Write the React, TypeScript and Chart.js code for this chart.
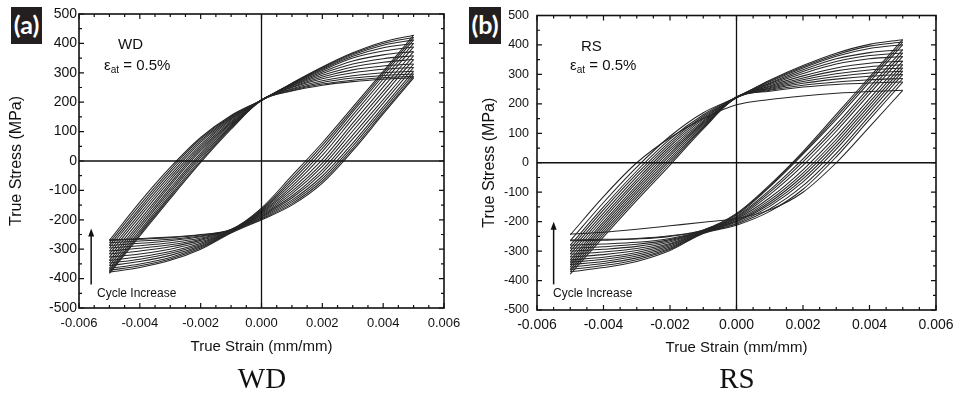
import React, { useEffect, useRef } from "react";
import { Chart, registerables } from "chart.js";

Chart.register(...registerables);

// Strain grid shared by every branch (mm/mm)
const strainGrid = [-0.005, -0.004, -0.003, -0.002, -0.001, 0, 0.001, 0.002, 0.003, 0.004, 0.005];
const xTickValues = [-0.006, -0.004, -0.002, 0, 0.002, 0.004, 0.006];
const yTickValues = [-500, -400, -300, -200, -100, 0, 100, 200, 300, 400, 500];

// (a) WD – loading branches (compression tip -> tension tip), MPa at strainGrid
const wdLoading = [
  [-382, -255, -128, -5, 108, 207, 238, 258, 270, 278, 283],
  [-378, -250, -122, 0, 112, 206, 240, 262, 275, 283, 288],
  [-372, -244, -116, 6, 115, 208, 243, 267, 282, 291, 296],
  [-365, -237, -108, 13, 119, 207, 246, 273, 290, 300, 305],
  [-356, -228, -100, 20, 123, 208, 250, 280, 300, 312, 318],
  [-347, -219, -92, 27, 127, 206, 252, 286, 310, 323, 330],
  [-338, -210, -83, 35, 131, 207, 255, 292, 320, 336, 345],
  [-327, -200, -75, 42, 135, 208, 257, 298, 330, 348, 358],
  [-316, -189, -66, 49, 139, 207, 259, 303, 340, 361, 372],
  [-306, -179, -57, 56, 143, 206, 261, 308, 350, 374, 388],
  [-296, -169, -48, 63, 146, 207, 262, 312, 356, 385, 400],
  [-287, -160, -39, 69, 149, 208, 263, 315, 361, 394, 412],
  [-278, -150, -30, 75, 152, 206, 264, 318, 365, 400, 420],
  [-270, -140, -22, 80, 155, 207, 265, 320, 368, 405, 428],
];
// (a) WD – unloading branches (tension tip -> next compression tip), MPa at strainGrid
const wdUnloading = [
  [-378, -362, -338, -300, -245, -200, -150, -75, 35, 160, 283],
  [-372, -356, -333, -296, -243, -197, -145, -68, 42, 166, 288],
  [-365, -350, -328, -292, -242, -194, -139, -60, 51, 175, 296],
  [-356, -342, -321, -288, -241, -191, -133, -51, 61, 184, 305],
  [-347, -334, -314, -284, -240, -188, -126, -40, 75, 197, 318],
  [-338, -326, -308, -280, -239, -185, -119, -30, 88, 209, 330],
  [-327, -316, -300, -275, -238, -182, -111, -18, 102, 224, 345],
  [-316, -306, -292, -270, -237, -179, -103, -7, 116, 237, 358],
  [-306, -297, -285, -266, -236, -176, -95, 5, 129, 251, 372],
  [-296, -288, -278, -262, -235, -173, -86, 19, 144, 266, 388],
  [-287, -280, -271, -258, -235, -170, -77, 32, 156, 279, 400],
  [-278, -272, -266, -255, -234, -167, -68, 43, 167, 290, 412],
  [-270, -266, -261, -252, -233, -164, -59, 53, 175, 298, 420],
  [-268, -264, -259, -250, -233, -160, -50, 62, 183, 305, 428],
];

// (b) RS – loading branches
const rsLoading = [
  [-245, -115, 0, 85, 150, 197, 215, 227, 236, 242, 246],
  [-378, -252, -128, -8, 115, 222, 243, 257, 266, 271, 274],
  [-370, -243, -119, 0, 119, 221, 246, 263, 274, 282, 286],
  [-362, -235, -111, 8, 123, 223, 249, 270, 284, 294, 300],
  [-354, -226, -102, 16, 127, 222, 252, 276, 293, 305, 311],
  [-346, -218, -94, 24, 131, 221, 255, 282, 302, 315, 322],
  [-338, -209, -85, 32, 135, 223, 258, 288, 312, 326, 333],
  [-330, -201, -77, 40, 139, 222, 261, 295, 322, 338, 345],
  [-320, -191, -67, 48, 143, 221, 265, 303, 335, 353, 361],
  [-310, -181, -58, 56, 148, 223, 268, 310, 344, 364, 373],
  [-300, -171, -48, 64, 153, 222, 271, 316, 353, 374, 384],
  [-290, -160, -38, 72, 158, 221, 275, 322, 362, 388, 401],
  [-280, -150, -28, 80, 163, 223, 278, 326, 367, 396, 410],
  [-265, -135, -15, 90, 170, 222, 280, 330, 372, 402, 418],
];
// (b) RS – unloading branches
const rsUnloading = [
  [-242, -236, -226, -214, -202, -189, -160, -100, 0, 122, 246],
  [-370, -356, -335, -298, -240, -212, -165, -90, 20, 147, 274],
  [-362, -349, -329, -294, -239, -208, -157, -78, 32, 159, 286],
  [-354, -342, -323, -290, -238, -205, -148, -65, 46, 173, 300],
  [-346, -335, -317, -286, -237, -201, -141, -55, 57, 184, 311],
  [-338, -328, -311, -282, -236, -198, -134, -45, 68, 195, 322],
  [-330, -321, -305, -278, -235, -195, -127, -35, 79, 206, 333],
  [-320, -312, -298, -274, -234, -191, -119, -24, 91, 218, 345],
  [-310, -303, -291, -269, -233, -188, -108, -9, 107, 234, 361],
  [-300, -294, -284, -265, -232, -185, -100, 3, 119, 246, 373],
  [-290, -285, -277, -261, -231, -182, -93, 13, 130, 257, 384],
  [-280, -276, -270, -257, -230, -178, -82, 29, 147, 274, 401],
  [-265, -263, -259, -250, -229, -175, -79, 33, 156, 283, 410],
  [-262, -260, -257, -248, -228, -172, -75, 38, 164, 291, 418],
];

const SANS = "'Liberation Sans', Arial, sans-serif";

const framePlugin = {
  id: "frameTicks",
  afterDraw(chart: any, _args: any, opts: any) {
    const { ctx, chartArea, scales } = chart;
    const { left, right, top, bottom } = chartArea;
    const xs = scales.x;
    const ys = scales.y;
    ctx.save();
    ctx.strokeStyle = "#111";
    ctx.lineWidth = 1.3;
    const x0 = xs.getPixelForValue(0);
    const y0 = ys.getPixelForValue(0);
    ctx.beginPath();
    ctx.moveTo(x0, top);
    ctx.lineTo(x0, bottom);
    ctx.moveTo(left, y0);
    ctx.lineTo(right, y0);
    ctx.stroke();
    ctx.lineWidth = 1.6;
    ctx.strokeRect(left, top, right - left, bottom - top);
    ctx.lineWidth = 1.2;
    ctx.beginPath();
    for (let i = 0; i <= 24; i++) {
      const v = -0.006 + i * 0.0005;
      const px = xs.getPixelForValue(v);
      const len = i % 4 === 0 ? 5 : 3;
      ctx.moveTo(px, bottom);
      ctx.lineTo(px, bottom - len);
      ctx.moveTo(px, top);
      ctx.lineTo(px, top + len);
    }
    for (let i = 0; i <= 20; i++) {
      const v = -500 + i * 50;
      const py = ys.getPixelForValue(v);
      const len = i % 2 === 0 ? 5 : 3;
      ctx.moveTo(left, py);
      ctx.lineTo(left + len, py);
      ctx.moveTo(right, py);
      ctx.lineTo(right - len, py);
    }
    ctx.stroke();
    if (opts && opts.arrow) {
      const a = opts.arrow;
      const ax = xs.getPixelForValue(a.x);
      const ay1 = ys.getPixelForValue(a.from);
      const ay2 = ys.getPixelForValue(a.to);
      ctx.lineWidth = 1.5;
      ctx.beginPath();
      ctx.moveTo(ax, ay1);
      ctx.lineTo(ax, ay2 + 6);
      ctx.stroke();
      ctx.fillStyle = "#111";
      ctx.beginPath();
      ctx.moveTo(ax, ay2);
      ctx.lineTo(ax - 3, ay2 + 8);
      ctx.lineTo(ax + 3, ay2 + 8);
      ctx.closePath();
      ctx.fill();
    }
    ctx.restore();
  },
};

function buildDatasets(loading: number[][], unloading: number[][]) {
  const ds: any[] = [];
  const mk = (arr: number[]) => ({
    data: strainGrid.map((s, k) => ({ x: s, y: arr[k] })),
    showLine: true,
    borderColor: "#262626",
    borderWidth: 1.05,
    pointRadius: 0,
    fill: false,
    cubicInterpolationMode: "monotone",
  });
  loading.forEach((arr) => ds.push(mk(arr)));
  unloading.forEach((arr) => ds.push(mk(arr)));
  return ds;
}

type PanelCfg = {
  loading: number[][];
  unloading: number[][];
  width: number;
  axisLeft: number;
  padRight: number;
  xAxisHeight: number;
  yTickSize: number;
  xTickSize: number;
  yTickPad: number;
  xTickPad: number;
  yTitlePad: number;
  xTitlePad: number;
  arrow: { x: number; from: number; to: number };
};

function Panel({ cfg }: { cfg: PanelCfg }) {
  const ref = useRef<HTMLCanvasElement>(null);
  useEffect(() => {
    if (!ref.current) return;
    const chart = new Chart(ref.current, {
      type: "scatter",
      data: { datasets: buildDatasets(cfg.loading, cfg.unloading) },
      options: {
        animation: false,
        responsive: false,
        maintainAspectRatio: false,
        layout: { padding: { left: 0, top: 14, right: cfg.padRight, bottom: 0 } },
        plugins: {
          legend: { display: false },
          tooltip: { enabled: false },
          frameTicks: { arrow: cfg.arrow },
        } as any,
        scales: {
          x: {
            type: "linear",
            min: -0.006,
            max: 0.006,
            afterBuildTicks: (s: any) => {
              s.ticks = xTickValues.map((v) => ({ value: v }));
            },
            afterFit: (s: any) => {
              s.height = cfg.xAxisHeight;
            },
            grid: { display: false, drawTicks: false },
            border: { display: false },
            ticks: {
              autoSkip: false,
              maxRotation: 0,
              color: "#111",
              padding: cfg.xTickPad,
              font: { family: SANS, size: cfg.xTickSize },
              callback: (v: any) => (Math.abs(Number(v)) < 1e-9 ? "0.000" : Number(v).toFixed(3)),
            },
            title: {
              display: true,
              text: "True Strain (mm/mm)",
              color: "#111",
              font: { family: SANS, size: 15 },
              padding: { top: 0, bottom: cfg.xTitlePad },
            },
          },
          y: {
            type: "linear",
            min: -500,
            max: 500,
            afterBuildTicks: (s: any) => {
              s.ticks = yTickValues.map((v) => ({ value: v }));
            },
            afterFit: (s: any) => {
              s.width = cfg.axisLeft;
            },
            grid: { display: false, drawTicks: false },
            border: { display: false },
            ticks: {
              autoSkip: false,
              color: "#111",
              padding: cfg.yTickPad,
              font: { family: SANS, size: cfg.yTickSize },
            },
            title: {
              display: true,
              text: "True Stress (MPa)",
              color: "#111",
              font: { family: SANS, size: 16 },
              padding: { top: cfg.yTitlePad, bottom: 0 },
            },
          },
        },
      } as any,
      plugins: [framePlugin],
    });
    return () => chart.destroy();
  }, []);
  return <canvas ref={ref} width={cfg.width} height={395} style={{ display: "block" }} />;
}

const abs = (l: number, t: number, extra: React.CSSProperties = {}): React.CSSProperties => ({
  position: "absolute",
  left: l,
  top: t,
  whiteSpace: "nowrap",
  lineHeight: 1,
  ...extra,
});

export default function App() {
  const cfgA: PanelCfg = {
    loading: wdLoading,
    unloading: wdUnloading,
    width: 470,
    axisLeft: 79,
    padRight: 26,
    xAxisHeight: 87,
    yTickSize: 14,
    xTickSize: 13,
    yTickPad: 2,
    xTickPad: 8,
    yTitlePad: 7,
    xTitlePad: 39,
    arrow: { x: -0.0056, from: -420, to: -230 },
  };
  const cfgB: PanelCfg = {
    loading: rsLoading,
    unloading: rsUnloading,
    width: 494,
    axisLeft: 67,
    padRight: 28,
    xAxisHeight: 85,
    yTickSize: 12.5,
    xTickSize: 14,
    yTickPad: 8,
    xTickPad: 7,
    yTitlePad: 10,
    xTitlePad: 38,
    arrow: { x: -0.0055, from: -413, to: -200 },
  };
  const box: React.CSSProperties = {
    background: "#231f20",
    color: "#fff",
    fontFamily: "Lato, 'Open Sans', sans-serif",
    fontWeight: 700,
    fontSize: 25,
    textAlign: "center",
    height: 37,
    lineHeight: "35px",
  };
  const note: React.CSSProperties = { fontFamily: SANS, fontSize: 15, color: "#111" };
  const cap: React.CSSProperties = {
    fontFamily: "'Liberation Serif', 'Times New Roman', serif",
    fontSize: 29,
    color: "#111",
    width: 120,
    textAlign: "center",
  };
  return (
    <div style={{ position: "absolute", left: 0, top: 0, width: 964, height: 395, background: "#fff", overflow: "hidden" }}>
      <div style={{ position: "absolute", left: 0, top: 0 }}>
        <Panel cfg={cfgA} />
      </div>
      <div style={{ position: "absolute", left: 470, top: 0 }}>
        <Panel cfg={cfgB} />
      </div>

      <div style={abs(11, 7, { ...box, width: 31 })}>(a)</div>
      <div style={abs(469, 7, { ...box, width: 32 })}>(b)</div>

      <div style={abs(118, 36, note)}>WD</div>
      <div style={abs(104, 57, note)}>
        ε<sub style={{ fontSize: 10, verticalAlign: "-3px" }}>at</sub> = 0.5%
      </div>
      <div style={abs(581, 38, note)}>RS</div>
      <div style={abs(570, 57, note)}>
        ε<sub style={{ fontSize: 10, verticalAlign: "-3px" }}>at</sub> = 0.5%
      </div>

      <div style={abs(97, 287, { fontFamily: SANS, fontSize: 12, color: "#111" })}>Cycle Increase</div>
      <div style={abs(553, 287, { fontFamily: SANS, fontSize: 12, color: "#111" })}>Cycle Increase</div>

      <div style={abs(202, 364, cap)}>WD</div>
      <div style={abs(677, 364, cap)}>RS</div>
    </div>
  );
}
